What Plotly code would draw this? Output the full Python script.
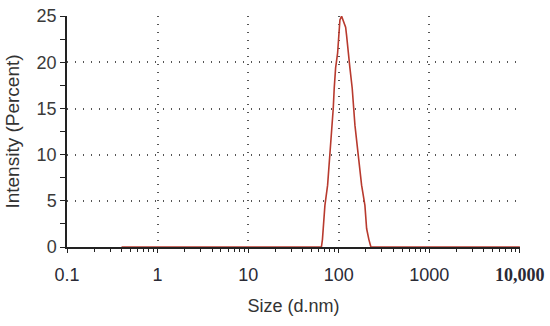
import plotly.graph_objects as go

# particle size distribution by intensity
size_nm = [0.4, 64.4, 66.1, 67.5, 70.4, 75.4, 80.0, 83.5, 87.0, 89.2, 92.4, 97.2,
           100.5, 103.1, 107.6, 112.1, 119.2, 122.2, 127.3, 132.9, 140.9, 147.2,
           151.0, 164.1, 178.9, 194.6, 203.2, 215.4, 226.7, 10000]
intensity = [0, 0, 0.8, 2.4, 4.5, 6.7, 10.0, 13.2, 15.0, 17.2, 19.4, 21.0,
             24.0, 24.6, 25.0, 24.6, 23.8, 22.9, 21.0, 19.4, 17.2, 14.3,
             13.2, 10.0, 6.7, 4.5, 2.0, 0.8, 0, 0]

x_ticks = [0.1, 1, 10, 100, 1000, 10000]
x_labels = ["0.1", "1", "10", "100", "1000",
            "<b><span style='font-family:Liberation Serif'>10,000</span></b>"]
y_ticks = [0, 5, 10, 15, 20, 25]

AX = "#222222"
SANS = "Liberation Sans, Arial, sans-serif"
XR = [-1, 4.0015]
YR = [0, 25.02]

fig = go.Figure()
fig.add_trace(go.Scatter(x=size_nm, y=intensity, mode="lines",
                         line=dict(color="#b83a2e", width=1.6),
                         showlegend=False, hoverinfo="skip"))

fig.update_layout(
    width=550, height=326,
    margin=dict(l=67, r=30, t=16, b=79),
    paper_bgcolor="white", plot_bgcolor="white",
    font=dict(family=SANS, color="#333333", size=18),
    xaxis=dict(type="log", range=XR, autorange=False, automargin=False,
               tickvals=x_ticks, ticktext=x_labels,
               showline=True, linecolor=AX, linewidth=1.5,
               ticks="outside", ticklen=4, tickwidth=1.2, tickcolor=AX,
               minor=dict(ticks="outside", ticklen=3, tickwidth=1, tickcolor=AX,
                          dtick="D1", showgrid=False),
               showgrid=True, gridcolor="#555555", gridwidth=1.5,
               griddash="1px,7px", zeroline=False, layer="below traces",
               tickfont=dict(size=18, color="#2a2a35"), ticklabelstandoff=7,
               title=dict(text="Size (d.nm)", font=dict(size=18, color="#333333"),
                          standoff=15)),
    yaxis=dict(range=YR, autorange=False, automargin=False, tickvals=y_ticks,
               showline=True, linecolor=AX, linewidth=1.5,
               ticks="outside", ticklen=5, tickwidth=1.2, tickcolor=AX,
               minor=dict(ticks="outside", ticklen=5, tickwidth=1, tickcolor=AX,
                          dtick=2.5, showgrid=False),
               showgrid=True, gridcolor="#555555", gridwidth=1.5,
               griddash="1px,7px", zeroline=False, layer="below traces",
               tickfont=dict(size=18, color="#3a3a3a"),
               title=dict(text="Intensity (Percent)",
                          font=dict(size=19, color="#333333"), standoff=12)),
    # second pair of axes for the inside half of the crossing ticks
    xaxis2=dict(type="log", range=XR, autorange=False, overlaying="x",
                anchor="y2", tickvals=x_ticks, showticklabels=False,
                ticks="inside", ticklen=4, tickwidth=1.2, tickcolor=AX,
                minor=dict(ticks="inside", ticklen=3, tickwidth=1, tickcolor=AX,
                           dtick="D1", showgrid=False),
                showgrid=False, zeroline=False, showline=False, automargin=False),
    yaxis2=dict(range=YR, autorange=False, overlaying="y", anchor="x2",
                side="left", tickvals=y_ticks, showticklabels=False,
                ticks="inside", ticklen=5, tickwidth=1.2, tickcolor=AX,
                minor=dict(ticks="inside", ticklen=5, tickwidth=1, tickcolor=AX,
                           dtick=2.5, showgrid=False),
                showgrid=False, zeroline=False, showline=False, automargin=False),
)

# the page's default 8px body margin would push the figure off the window
fig.write_html("out.html", config={"displayModeBar": False},
               post_script="document.body.style.margin='0';")
